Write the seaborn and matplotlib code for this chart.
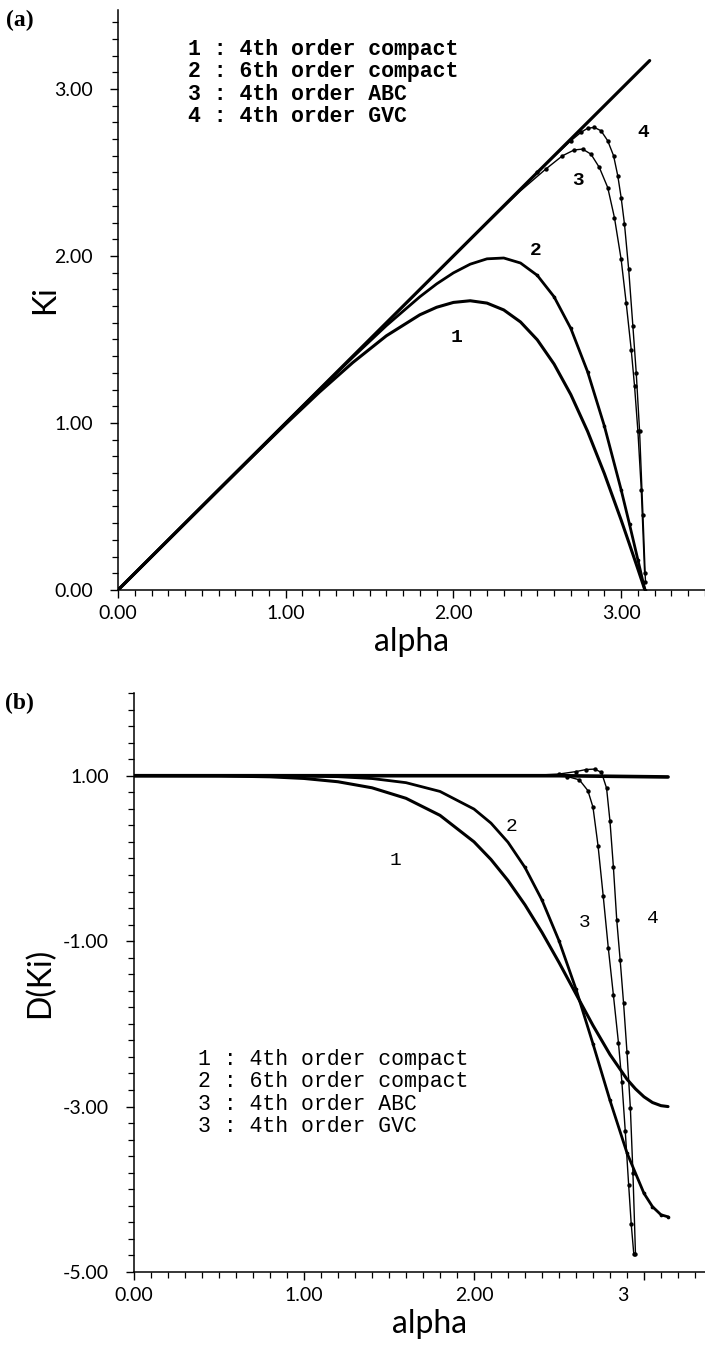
import numpy as np
import pandas as pd
import matplotlib
matplotlib.use("Agg")
import matplotlib.pyplot as plt
import seaborn as sns
from matplotlib.ticker import MultipleLocator
from matplotlib.transforms import ScaledTranslation

# ---------------- data : panel (a)  Ki vs alpha ----------------
exact_a_x = [0.0, 3.17]
exact_a_y = [0.0, 3.17]

c1a_x = [0, 0.2, 0.4, 0.6, 0.8, 1.0, 1.2, 1.4, 1.6, 1.8, 1.9, 2.0, 2.1, 2.2, 2.3,
         2.4, 2.5, 2.6, 2.7, 2.8, 2.9, 3.0, 3.05, 3.1, 3.1416]
c1a_y = [0, 0.200, 0.400, 0.600, 0.798, 0.994, 1.184, 1.362, 1.522, 1.648, 1.693,
         1.722, 1.732, 1.718, 1.677, 1.605, 1.498, 1.353, 1.170, 0.950, 0.697,
         0.419, 0.273, 0.125, 0.0]

c2a_x = [0, 0.2, 0.6, 1.0, 1.2, 1.4, 1.6, 1.8, 1.9, 2.0, 2.1, 2.2, 2.3, 2.4, 2.5,
         2.6, 2.7, 2.8, 2.9, 3.0, 3.05, 3.1, 3.1416]
c2a_y = [0, 0.200, 0.600, 1.000, 1.198, 1.394, 1.583, 1.756, 1.833, 1.899, 1.951,
         1.983, 1.988, 1.958, 1.884, 1.756, 1.566, 1.307, 0.982, 0.600, 0.393,
         0.180, 0.0]

c3a_x = [0, 1.0, 2.0, 2.4, 2.55, 2.65, 2.72, 2.77, 2.82, 2.87, 2.92, 2.96, 3.0,
         3.03, 3.06, 3.08, 3.10, 3.12, 3.14]
c3a_y = [0, 1.0, 2.0, 2.39, 2.52, 2.60, 2.635, 2.64, 2.61, 2.53, 2.41, 2.23, 1.98,
         1.72, 1.44, 1.22, 0.95, 0.60, 0.10]

c4a_x = [0, 1.0, 2.0, 2.5, 2.7, 2.76, 2.80, 2.84, 2.88, 2.92, 2.955, 2.98, 3.0,
         3.02, 3.045, 3.07, 3.09, 3.11, 3.13, 3.145]
c4a_y = [0, 1.0, 2.0, 2.5, 2.69, 2.74, 2.765, 2.77, 2.75, 2.69, 2.60, 2.48, 2.35,
         2.19, 1.92, 1.58, 1.30, 0.95, 0.45, 0.05]

# ---------------- data : panel (b)  D(Ki) vs alpha ----------------
exact_b_x = [0.0, 2.5, 3.1416]
exact_b_y = [1.0, 1.0, 0.985]

c1b_x = [0, 0.5, 0.8, 1.0, 1.2, 1.4, 1.6, 1.8, 2.0, 2.1, 2.2, 2.3, 2.4, 2.5, 2.6,
         2.7, 2.8, 2.9, 2.95, 3.0, 3.05, 3.1, 3.1416]
c1b_y = [1.0, 0.998, 0.987, 0.967, 0.927, 0.854, 0.727, 0.521, 0.201, -0.013,
         -0.267, -0.561, -0.894, -1.257, -1.639, -2.019, -2.371, -2.669, -2.786,
         -2.882, -2.951, -2.989, -3.0]

c2b_x = [0, 0.5, 1.0, 1.2, 1.4, 1.6, 1.8, 2.0, 2.1, 2.2, 2.3, 2.4, 2.5, 2.6, 2.7,
         2.8, 2.9, 3.0, 3.05, 3.1, 3.1416]
c2b_y = [1.0, 1.0, 0.996, 0.988, 0.966, 0.916, 0.810, 0.597, 0.427, 0.196, -0.109,
         -0.503, -0.994, -1.580, -2.241, -2.925, -3.560, -4.049, -4.21, -4.308,
         -4.333]

c3b_x = [0, 2.4, 2.55, 2.62, 2.67, 2.70, 2.73, 2.76, 2.79, 2.82, 2.85, 2.87, 2.89,
         2.91, 2.925, 2.94]
c3b_y = [1.0, 1.0, 0.99, 0.95, 0.82, 0.62, 0.15, -0.45, -1.08, -1.65, -2.23, -2.70,
         -3.30, -3.95, -4.42, -4.78]

c4b_x = [0, 2.3, 2.5, 2.6, 2.66, 2.71, 2.75, 2.78, 2.80, 2.82, 2.84, 2.86, 2.88,
         2.90, 2.92, 2.935, 2.95]
c4b_y = [1.0, 1.0, 1.02, 1.05, 1.075, 1.08, 1.04, 0.85, 0.45, -0.10, -0.75, -1.23,
         -1.75, -2.34, -3.02, -3.80, -4.78]

legend_a = ["1 : 4th order compact", "2 : 6th order compact",
            "3 : 4th order ABC", "4 : 4th order GVC"]
legend_b = ["1 : 4th order compact", "2 : 6th order compact",
            "3 : 4th order ABC", "3 : 4th order GVC"]

curve_labels_a = ["1", "2", "3", "4"]
curve_label_pos_a = [(2.02, 1.51), (2.49, 2.03), (2.745, 2.45), (3.13, 2.74)]
curve_labels_b = ["1", "2", "3", "4"]
curve_label_pos_b = [(1.54, -0.03), (2.22, 0.38), (2.65, -0.78), (3.05, -0.73)]

xticks_a = [0, 1, 2, 3]
xticklabels_a = ["0.00", "1.00", "2.00", "3.00"]
yticks_a = [0, 1, 2, 3]
yticklabels_a = ["0.00", "1.00", "2.00", "3.00"]
xticks_b = [0, 1, 2, 3]
xticklabels_b = ["0.00", "1.00", "2.00", "3"]
yticks_b = [1, -1, -3, -5]
yticklabels_b = ["1.00", "-1.00", "-3.00", "-5.00"]

# ---------------- styling ----------------
sns.set_theme(style="ticks")
plt.rcParams["font.family"] = ["Lato", "DejaVu Sans"]
plt.rcParams["axes.linewidth"] = 1.1
plt.rcParams["text.color"] = "black"

W, H = 705, 1350
fig = plt.figure(figsize=(W / 100, H / 100), dpi=100)
fig.patch.set_facecolor("white")

ax_a = fig.add_axes([118 / W, (H - 590) / H, 587 / W, 580 / H])
ax_b = fig.add_axes([134 / W, (H - 1272) / H, 571 / W, 579 / H])

thin_font = dict(family=["Lato", "DejaVu Sans"], weight="normal", color="black")
mono = ["Liberation Mono", "DejaVu Sans Mono"]


def draw(ax, x, y, lw, marker=None, ms=0, mark_from=None):
    df = pd.DataFrame({"x": x, "y": y})
    sns.lineplot(data=df, x="x", y="y", ax=ax, color="black", linewidth=lw,
                 estimator=None, sort=False, legend=False)
    if marker:
        sub = df if mark_from is None else df[df["x"] >= mark_from]
        sns.scatterplot(data=sub, x="x", y="y", ax=ax, color="black",
                        marker=marker, s=ms, linewidth=0, legend=False)


# panel (a)
draw(ax_a, exact_a_x, exact_a_y, 2.3)
draw(ax_a, c1a_x, c1a_y, 2.2)
draw(ax_a, c2a_x, c2a_y, 2.0, "o", 7, mark_from=2.5)
draw(ax_a, c3a_x, c3a_y, 1.0, "o", 10, mark_from=2.5)
draw(ax_a, c4a_x, c4a_y, 1.0, "o", 10, mark_from=2.5)

# panel (b)
draw(ax_b, exact_b_x, exact_b_y, 2.6)
draw(ax_b, c1b_x, c1b_y, 2.2)
draw(ax_b, c2b_x, c2b_y, 2.0, "o", 7, mark_from=2.3)
draw(ax_b, c3b_x, c3b_y, 1.0, "o", 10, mark_from=2.5)
draw(ax_b, c4b_x, c4b_y, 1.0, "o", 10, mark_from=2.5)

ax_a.set_xlim(0, 3.5)
ax_a.set_ylim(0, 3.473)
ax_b.set_xlim(0, 3.359)
ax_b.set_ylim(-5, 2)

for ax, xt, xtl, yt, ytl, ymin in [
    (ax_a, xticks_a, xticklabels_a, yticks_a, yticklabels_a, 0.1),
    (ax_b, xticks_b, xticklabels_b, yticks_b, yticklabels_b, 0.2),
]:
    sns.despine(ax=ax)
    ax.set_xticks(xt)
    ax.set_xticklabels(xtl, fontsize=14, **thin_font)
    ax.set_yticks(yt)
    ax.set_yticklabels(ytl, fontsize=14, **thin_font)
    ax.xaxis.set_minor_locator(MultipleLocator(0.1))
    ax.yaxis.set_minor_locator(MultipleLocator(ymin))
    ax.tick_params(which="major", direction="out", length=6, width=1.0,
                   color="black", labelcolor="black")
    ax.tick_params(which="minor", direction="out", length=4, width=0.9,
                   color="black")
    ax.tick_params(axis="y", which="major", pad=12)
    ax.tick_params(axis="x", which="major", pad=5)
    for s in ax.spines.values():
        s.set_color("black")
    ax.set_facecolor("white")
    ax.grid(False)

# shift the truncated "3" label as in the original
lab = ax_b.get_xticklabels()[-1]
lab.set_transform(lab.get_transform() + ScaledTranslation(-0.21, 0, fig.dpi_scale_trans))

ax_a.set_xlabel("alpha", fontsize=23, va="center", **thin_font)
ax_a.xaxis.set_label_coords(0.5, -52 / 580)
ax_a.set_ylabel("Ki", fontsize=23, va="center", **thin_font)
ax_a.yaxis.set_label_coords((45 - 118) / 587, 0.5)

ax_b.set_xlabel("alpha", fontsize=23, va="center", **thin_font)
ax_b.xaxis.set_label_coords(0.518, -52 / 579)
ax_b.set_ylabel("D(Ki)", fontsize=23, va="center", **thin_font)
ax_b.yaxis.set_label_coords((40 - 134) / 571, 0.5)

# legends (text blocks)
for i, t in enumerate(legend_a):
    fig.text(188 / W, 1 - (50 + 22 * i) / H, t, ha="left", va="center",
             family=mono, fontsize=15.5, weight="bold", color="black")
for i, t in enumerate(legend_b):
    fig.text(198 / W, 1 - (1060 + 22 * i) / H, t, ha="left", va="center",
             family=mono, fontsize=15.5, color="black")

for t, (x, y) in zip(curve_labels_a, curve_label_pos_a):
    ax_a.text(x, y, t, ha="center", va="center", family=mono, fontsize=14,
              weight="bold", color="black")
for t, (x, y) in zip(curve_labels_b, curve_label_pos_b):
    ax_b.text(x, y, t, ha="center", va="center", family=mono, fontsize=14,
              color="black")

fig.text(20 / W, 1 - 20 / H, "(a)", ha="center", va="center",
         family=["Liberation Serif", "DejaVu Serif"], weight="bold", fontsize=17,
         color="black")
fig.text(19 / W, 1 - 703 / H, "(b)", ha="center", va="center",
         family=["Liberation Serif", "DejaVu Serif"], weight="bold", fontsize=17,
         color="black")

fig.savefig("out.png", dpi=100, facecolor="white")
